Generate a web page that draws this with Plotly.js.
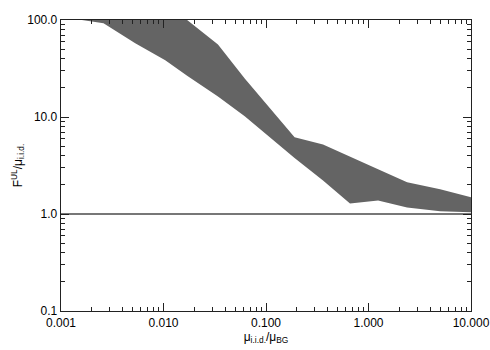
<!DOCTYPE html>
<html>
<head>
<meta charset="utf-8">
<script src="https://cdn.plot.ly/plotly-3.0.1.min.js"></script>
<style>
  body { margin: 0; background: #fff; }
  #chart { width: 490px; height: 350px; }
</style>
</head>
<body>
<div id="chart"></div>
<script>
// x positions of the band (mu_iid / mu_BG)
var xs = [0.001, 0.0016, 0.0026, 0.0053, 0.0104, 0.017, 0.034, 0.062, 0.19, 0.36, 0.66, 1.24, 2.38, 5.0, 10.0];
// upper and lower edge of the band (F^UL / mu_iid)
var upper = [150, 150, 150, 150, 150, 100, 56, 25, 6.2, 5.2, 3.93, 2.89, 2.12, 1.80, 1.49];
var lower = [130, 100, 92.5, 57.5, 38.5, 26.6, 16.3, 10.2, 3.77, 2.22, 1.28, 1.38, 1.17, 1.07, 1.04];
// reference line
var refX = [0.001, 10.0];
var refY = [1, 1];

var xTickVals = [0.001, 0.01, 0.1, 1, 10];
var xTickText = ['0.001', '0.010', '0.100', '1.000', '10.000'];
var yTickVals = [0.1, 1, 10, 100];
var yTickText = ['0.1', '1.0', '10.0', '100.0'];

// minor tick positions (2..9 in each decade)
function minorTicks(lo, hi) {
  var out = [];
  for (var d = lo; d < hi; d++) {
    for (var k = 2; k <= 9; k++) out.push(k * Math.pow(10, d));
  }
  return out;
}
var xMinor = minorTicks(-3, 1);
var yMinor = minorTicks(-1, 2);

var font = 'Liberation Sans, Arial, sans-serif';

var data = [
  {
    x: xs, y: lower, type: 'scatter', mode: 'lines',
    line: { width: 0, color: '#646464' },
    hoverinfo: 'skip', showlegend: false
  },
  {
    x: xs, y: upper, type: 'scatter', mode: 'lines',
    fill: 'tonexty', fillcolor: '#646464',
    line: { width: 0, color: '#646464' },
    hoverinfo: 'skip', showlegend: false
  },
  {
    x: refX, y: refY, type: 'scatter', mode: 'lines',
    line: { width: 2, color: '#777777' },
    hoverinfo: 'skip', showlegend: false
  }
];

function axis(extra) {
  return Object.assign({
    type: 'log',
    showgrid: false,
    zeroline: false,
    showline: true,
    linecolor: '#222',
    linewidth: 1.3,
    mirror: 'ticks',
    ticks: 'inside',
    ticklen: 8,
    tickwidth: 1,
    tickcolor: '#222',
    tickmode: 'array',
    tickfont: { family: font, size: 12, color: '#000' }
  }, extra);
}

var layout = {
  width: 490,
  height: 350,
  margin: { l: 61, r: 19, t: 20, b: 39 },
  paper_bgcolor: '#fff',
  plot_bgcolor: 'rgba(0,0,0,0)',
  showlegend: false,
  xaxis: axis({
    range: [-3, 1],
    tickvals: xTickVals,
    ticktext: xTickText,
    title: {
      text: 'μ<sub>i.i.d.</sub>/μ<sub>BG</sub>',
      font: { family: font, size: 12, color: '#000' },
      standoff: 0
    }
  }),
  yaxis: axis({
    range: [-1, 2],
    tickvals: yTickVals,
    ticktext: yTickText,
    title: {
      text: 'F<sup>UL</sup>/μ<sub>i.i.d.</sub>',
      font: { family: font, size: 12, color: '#000' },
      standoff: 2
    }
  }),
  xaxis2: axis({
    overlaying: 'x',
    anchor: 'y',
    range: [-3, 1],
    tickvals: xMinor,
    ticklen: 4,
    showticklabels: false
  }),
  yaxis2: axis({
    overlaying: 'y',
    anchor: 'x',
    range: [-1, 2],
    tickvals: yMinor,
    ticklen: 4,
    showticklabels: false
  })
};

// dummy invisible trace so the minor axes get drawn
data.push({
  x: [1], y: [1], xaxis: 'x2', yaxis: 'y2', type: 'scatter', mode: 'markers',
  marker: { opacity: 0 }, hoverinfo: 'skip', showlegend: false
});

Plotly.newPlot('chart', data, layout, { displayModeBar: false, staticPlot: true });
</script>
</body>
</html>
